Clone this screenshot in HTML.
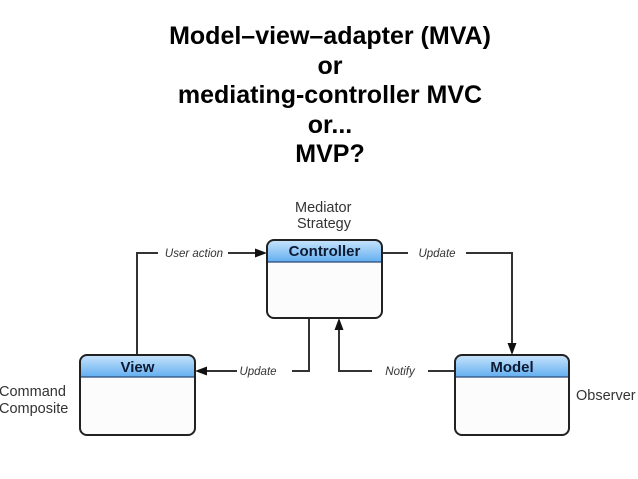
<!DOCTYPE html>
<html><head><meta charset="utf-8"><style>
html,body{margin:0;padding:0;background:#fff;}
body{width:638px;height:479px;position:relative;overflow:hidden;font-family:"Liberation Sans",sans-serif;}
.title{position:absolute;left:0;width:660px;top:22px;text-align:center;font-weight:bold;font-size:25px;line-height:29.5px;color:#000;}
</style></head><body>
<div class="title">Model–view–adapter (MVA)<br>or<br>mediating-controller MVC<br>or...<br>MVP?</div>
<svg width="638" height="479" style="position:absolute;left:0;top:0" font-family="Liberation Sans, sans-serif">
<defs>
<linearGradient id="g" x1="0" y1="0" x2="0" y2="1"><stop offset="0" stop-color="#c9e4fb"/><stop offset="1" stop-color="#62aef0"/></linearGradient>
<clipPath id="c1"><rect x="267" y="240" width="115" height="78" rx="7"/></clipPath>
<clipPath id="c2"><rect x="80" y="355" width="115" height="80" rx="7"/></clipPath>
<clipPath id="c3"><rect x="455" y="355" width="114" height="80" rx="7"/></clipPath>
</defs>
<g stroke="#333" stroke-width="2" fill="none">
<path d="M137 355 V253 H158"/><path d="M228 253 H258"/>
<path d="M382 253 H408"/><path d="M466 253 H512 V345"/>
<path d="M309 318 V371 H292"/><path d="M237 371 H205"/>
<path d="M455 371 H428"/><path d="M372 371 H339 V328"/>
</g>
<g fill="#111">
<polygon points="267,253 255,248.5 255,257.5"/>
<polygon points="512,355 507.5,343 516.5,343"/>
<polygon points="195,371 207,366.5 207,375.5"/>
<polygon points="339,318 334.5,330 343.5,330"/>
</g>
<g font-style="italic" font-size="11.5" fill="#333">
<text x="194" y="257" text-anchor="middle">User action</text>
<text x="437" y="257" text-anchor="middle">Update</text>
<text x="258" y="375" text-anchor="middle">Update</text>
<text x="400" y="375" text-anchor="middle">Notify</text>
</g>
<g clip-path="url(#c1)"><rect x="267" y="240" width="115" height="78" fill="#fdfcfd"/><rect x="267" y="240" width="115" height="22" fill="url(#g)"/><line x1="267" y1="262" x2="382" y2="262" stroke="#2a4a7a" stroke-width="1.2"/></g>
<rect x="267" y="240" width="115" height="78" rx="7" fill="none" stroke="#222" stroke-width="2"/>
<g clip-path="url(#c2)"><rect x="80" y="355" width="115" height="80" fill="#fdfcfd"/><rect x="80" y="355" width="115" height="22" fill="url(#g)"/><line x1="80" y1="377" x2="195" y2="377" stroke="#2a4a7a" stroke-width="1.2"/></g>
<rect x="80" y="355" width="115" height="80" rx="7" fill="none" stroke="#222" stroke-width="2"/>
<g clip-path="url(#c3)"><rect x="455" y="355" width="114" height="80" fill="#fdfcfd"/><rect x="455" y="355" width="114" height="22" fill="url(#g)"/><line x1="455" y1="377" x2="569" y2="377" stroke="#2a4a7a" stroke-width="1.2"/></g>
<rect x="455" y="355" width="114" height="80" rx="7" fill="none" stroke="#222" stroke-width="2"/>
<g font-weight="bold" font-size="15" fill="#0d1a33" text-anchor="middle">
<text x="324.5" y="256">Controller</text>
<text x="137.5" y="372">View</text>
<text x="512" y="372">Model</text>
</g>
<g font-size="14.5" fill="#333">
<text x="295" y="212">Mediator</text>
<text x="297" y="228">Strategy</text>
<text x="-1" y="396">Command</text>
<text x="-1" y="413">Composite</text>
<text x="576" y="400">Observer</text>
</g>
</svg>
</body></html>
